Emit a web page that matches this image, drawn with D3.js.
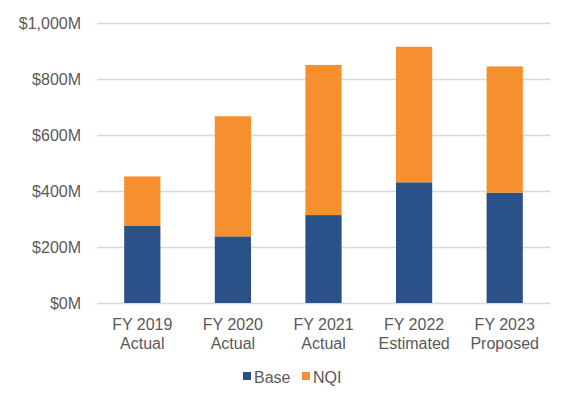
<!DOCTYPE html>
<html>
<head>
<meta charset="utf-8">
<script src="https://cdn.jsdelivr.net/npm/d3@7"></script>
<style>
  body { margin: 0; background: #fff; }
  text { font-family: "Liberation Sans Narrow", "Arial Narrow", "Liberation Sans", sans-serif; fill: #595959; }
</style>
</head>
<body>
<div id="chart-area"></div>
<script>
// data
const years = ["FY 2019", "FY 2020", "FY 2021", "FY 2022", "FY 2023"]
const stages = ["Actual", "Actual", "Actual", "Estimated", "Proposed"]
const base = [275, 238, 314, 431, 394]
const nqi = [177, 429, 536, 484, 451]
const yTicks = [0, 200, 400, 600, 800, 1000]
const seriesNames = ["Base", "NQI"]
const colors = ["#2A5289", "#F68F2E"]

const W = 574, H = 394
const MARGIN = { LEFT: 97, RIGHT: 24, TOP: 23, BOTTOM: 91 }
const WIDTH = W - MARGIN.LEFT - MARGIN.RIGHT
const HEIGHT = H - MARGIN.TOP - MARGIN.BOTTOM

const svg = d3.select("#chart-area").append("svg")
  .attr("width", W)
  .attr("height", H)

const g = svg.append("g")
  .attr("transform", `translate(${MARGIN.LEFT}, ${MARGIN.TOP})`)

const rows = years.map((y, i) => ({ year: y, stage: stages[i], Base: base[i], NQI: nqi[i] }))
const stacked = d3.stack().keys(seriesNames)(rows)

const x = d3.scaleBand().domain(years).range([0, WIDTH]).paddingInner(0.6).paddingOuter(0.3)
const y = d3.scaleLinear().domain([0, 1000]).range([HEIGHT, 0])

// gridlines
g.selectAll(".grid")
  .data(yTicks)
  .enter().append("line")
  .attr("x1", 0)
  .attr("x2", WIDTH)
  .attr("y1", d => y(d) + 0.5)
  .attr("y2", d => y(d) + 0.5)
  .attr("stroke", "#d9d9d9")
  .attr("stroke-width", 1.5)

// y axis labels
const fmt = d3.format(",")
g.selectAll(".ylab")
  .data(yTicks)
  .enter().append("text")
  .attr("x", -16)
  .attr("y", d => y(d))
  .attr("dy", "0.35em")
  .attr("text-anchor", "end")
  .style("font-size", "16px")
  .text(d => `$${fmt(d)}M`)

// bars
g.selectAll(".series")
  .data(stacked)
  .enter().append("g")
  .attr("fill", (d, i) => colors[i])
  .selectAll("rect")
  .data(d => d)
  .enter().append("rect")
  .attr("x", d => x(d.data.year))
  .attr("width", x.bandwidth())
  .attr("y", d => y(d[1]))
  .attr("height", d => y(d[0]) - y(d[1]))

// x labels
const xl = g.selectAll(".xlab")
  .data(rows)
  .enter().append("text")
  .attr("text-anchor", "middle")
  .attr("transform", d => `translate(${x(d.year) + x.bandwidth() / 2}, ${HEIGHT})`)
  .style("font-size", "16px")
xl.append("tspan").attr("x", 0).attr("y", 27).text(d => d.year)
xl.append("tspan").attr("x", 0).attr("y", 46).text(d => d.stage)

// legend
const legend = svg.append("g").attr("transform", "translate(243, 377)")
const lx = [0, 59]
seriesNames.forEach((s, i) => {
  legend.append("rect")
    .attr("x", lx[i])
    .attr("y", -5)
    .attr("width", 8)
    .attr("height", 8)
    .attr("fill", colors[i])
  legend.append("text")
    .attr("x", lx[i] + 11)
    .attr("y", 0)
    .attr("dy", "0.35em")
    .style("font-size", "16px")
    .text(s)
})
</script>
</body>
</html>
